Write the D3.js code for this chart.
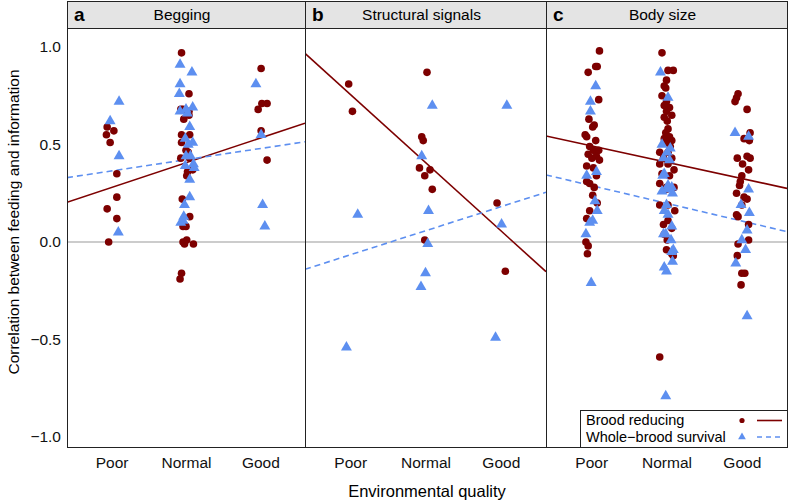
<!DOCTYPE html>
<html><head><meta charset="utf-8">
<script src="https://cdn.jsdelivr.net/npm/d3@7"></script>
<style>body{margin:0;background:#fff}svg{display:block;font-family:"Liberation Sans",Arial,sans-serif}</style>
</head><body><svg id="c" width="788" height="502"></svg>
<script>
const panelLetters = ["a","b","c"];
const panelTitles = ["Begging","Structural signals","Body size"];
const categories = ["Poor","Normal","Good"];
const yTicks = [-1, -0.5, 0, 0.5, 1];
const seriesNames = ["Brood reducing","Whole\u2212brood survival"];
// fitted regression values at the left (x=0.4) and right (x=3.6) edges of each panel
const broodFit = [[0.204,0.609],[0.967,-0.152],[0.544,0.275]];
const wholeFit = [[0.33,0.514],[-0.14,0.255],[0.344,0.053]];

const broodA = [[0.94,0.59],[1.03,0.57],[0.93,0.55],[0.98,0.51],[1.07,0.35],[1.07,0.23],[0.94,0.17],[1.07,0.12],[0.96,0.0],
 [1.94,0.97],[2.04,0.76],[1.93,0.68],[1.96,0.68],[2.04,0.67],[1.97,0.63],[2.04,0.65],[2.05,0.55],[1.94,0.55],[1.94,0.51],[2.0,0.47],[2.03,0.46],[1.93,0.43],[2.05,0.43],[2.09,0.37],[2.01,0.34],[2.02,0.36],[1.95,0.22],[2.05,0.13],[1.96,0.08],[2.0,0.08],[1.96,0.0],[1.98,-0.01],[2.01,0.01],[2.1,-0.01],[1.94,-0.16],[1.92,-0.19],
 [3.01,0.89],[3.02,0.71],[3.09,0.71],[2.97,0.68],[3.01,0.57],[3.09,0.42]];
const wholeA = [[0.98,0.62],[1.10,0.72],[1.10,0.44],[1.09,0.05],
 [1.92,0.91],[2.08,0.87],[1.92,0.81],[1.91,0.76],[2.0,0.68],[2.09,0.69],[1.92,0.67],[2.02,0.66],[2.05,0.59],[1.99,0.53],[2.09,0.51],[2.03,0.50],[2.0,0.44],[2.06,0.44],[2.10,0.40],[1.99,0.39],[2.11,0.38],[2.05,0.32],[2.05,0.23],[1.98,0.19],[1.97,0.13],[1.96,0.11],[1.93,0.10],
 [2.94,0.81],[3.01,0.55],[3.03,0.19],[3.06,0.08]];
const broodB = [[0.98,0.81],[1.03,0.67],[2.02,0.87],[1.95,0.54],[1.97,0.52],[1.92,0.38],[2.06,0.37],[1.99,0.34],[2.09,0.27],[1.99,0.01],[2.95,0.20],[3.06,-0.15]];
const wholeB = [[2.09,0.70],[3.08,0.70],[1.95,0.44],[1.10,0.14],[2.04,0.16],[3.01,0.09],[2.03,-0.01],[2.0,-0.16],[1.94,-0.23],[0.95,-0.54],[2.93,-0.49]];
const broodC = [[1.11,0.98],[1.06,0.90],[1.08,0.90],[0.96,0.87],[1.10,0.73],[0.97,0.63],[1.04,0.60],[1.02,0.59],[0.92,0.55],[0.94,0.54],[1.06,0.52],[0.98,0.49],[1.03,0.47],[1.10,0.47],[0.96,0.45],[1.07,0.44],[1.01,0.43],[1.11,0.42],[0.94,0.39],[1.03,0.38],[1.07,0.34],[0.94,0.31],[0.98,0.30],[1.04,0.28],[1.02,0.24],[1.08,0.20],[0.98,0.16],[0.94,0.12],[0.93,0.0],[0.96,-0.02],[0.95,-0.06],
 [1.94,0.97],[2.02,0.88],[2.09,0.88],[2.0,0.83],[1.97,0.80],[1.99,0.79],[1.94,0.75],[2.0,0.72],[1.97,0.70],[2.04,0.69],[2.0,0.67],[2.07,0.65],[1.97,0.64],[2.01,0.62],[2.02,0.58],[1.99,0.56],[2.04,0.54],[1.97,0.53],[2.07,0.52],[2.0,0.51],[2.05,0.49],[1.91,0.46],[2.02,0.46],[1.96,0.43],[2.07,0.43],[1.91,0.40],[2.02,0.40],[2.10,0.37],[1.94,0.35],[2.04,0.34],[1.91,0.30],[2.0,0.28],[2.10,0.28],[2.0,0.27],[1.91,0.19],[2.02,0.19],[2.11,0.16],[2.02,0.11],[1.96,0.09],[2.07,0.07],[1.97,0.04],[2.01,0.01],[2.0,-0.04],[2.07,-0.06],[2.09,-0.07],[1.91,-0.59],
 [2.95,0.76],[2.93,0.74],[2.91,0.72],[3.07,0.68],[3.11,0.56],[3.03,0.53],[3.10,0.52],[2.94,0.43],[3.07,0.44],[3.11,0.43],[3.01,0.40],[3.09,0.37],[3.0,0.34],[2.98,0.31],[2.97,0.29],[2.93,0.25],[3.03,0.23],[3.07,0.22],[3.0,0.19],[2.93,0.14],[2.95,0.13],[3.09,0.09],[3.09,0.01],[2.95,-0.01],[2.94,-0.07],[3.0,-0.16],[3.04,-0.16],[2.99,-0.22]];
const wholeC = [[1.06,0.80],[0.99,0.72],[0.99,0.67],[0.94,0.34],[1.07,0.36],[1.05,0.21],[1.08,0.16],[1.02,0.11],[0.98,0.10],[0.93,0.04],[1.0,-0.21],
 [1.92,0.87],[2.02,0.74],[1.94,0.50],[2.05,0.48],[2.01,0.46],[1.96,0.43],[2.04,0.42],[1.97,0.35],[1.95,0.34],[2.02,0.29],[2.07,0.28],[1.94,0.26],[2.01,0.27],[2.08,0.25],[2.0,0.19],[1.97,0.16],[2.02,0.14],[2.07,0.08],[1.99,0.04],[1.96,0.04],[2.06,0.01],[2.09,-0.04],[2.07,-0.05],[2.08,-0.10],[1.97,-0.13],[2.0,-0.15],[1.99,-0.79],
 [2.91,0.56],[3.09,0.54],[3.09,0.27],[2.99,0.19],[3.10,0.15],[3.07,0.06],[3.0,0.01],[3.05,-0.04],[2.92,-0.11],[3.07,-0.38]];

const broodData = [broodA, broodB, broodC];
const wholeData = [wholeA, wholeB, wholeC];

const RED = "#7d0000", BLUE = "#5d8ff0";
const svg = d3.select("#c");
const edges = [67, 305, 546, 787];
const stripTop = 1, plotTop = 28, plotBottom = 447;
const y = d3.scaleLinear().domain([-1, 1]).range([437, 47]);
const tri = d3.symbol().type(d3.symbolTriangle).size(52);

panelLetters.forEach((letter, i) => {
  const x0 = edges[i], x1 = edges[i+1];
  const x = d3.scaleLinear().domain([0.4, 3.6]).range([x0, x1]);
  const g = svg.append("g");
  g.append("rect").attr("x", x0 + 0.5).attr("y", stripTop + 0.5).attr("width", x1 - x0).attr("height", plotTop - stripTop)
    .attr("fill", "#e4e4e4").attr("stroke", "#222").attr("stroke-width", 1);
  g.append("text").attr("x", x0 + 7).attr("y", plotTop - 7).attr("font-size", 19).attr("font-weight", "bold").text(letter);
  g.append("text").attr("x", (x0 + x1) / 2 - 4).attr("y", plotTop - 8).attr("text-anchor", "middle").attr("font-size", 15.5).text(panelTitles[i]);
  g.append("line").attr("x1", x0).attr("x2", x1).attr("y1", y(0)).attr("y2", y(0)).attr("stroke", "#9a9a9a").attr("stroke-width", 1.2);
  const cid = "clip" + i;
  svg.append("clipPath").attr("id", cid).append("rect").attr("x", x0).attr("y", plotTop).attr("width", x1 - x0).attr("height", plotBottom - plotTop);
  const pg = g.append("g").attr("clip-path", `url(#${cid})`);
  pg.append("line").attr("x1", x(0.4)).attr("x2", x(3.6)).attr("y1", y(broodFit[i][0])).attr("y2", y(broodFit[i][1]))
    .attr("stroke", RED).attr("stroke-width", 1.6);
  pg.append("line").attr("x1", x(0.4)).attr("x2", x(3.6)).attr("y1", y(wholeFit[i][0])).attr("y2", y(wholeFit[i][1]))
    .attr("stroke", BLUE).attr("stroke-width", 1.6).attr("stroke-dasharray", "6,4");
  pg.selectAll("circle.b").data(broodData[i]).join("circle").attr("class", "b")
    .attr("cx", d => x(d[0])).attr("cy", d => y(d[1])).attr("r", 3.8).attr("fill", RED);
  pg.selectAll("path.w").data(wholeData[i]).join("path").attr("class", "w")
    .attr("transform", d => `translate(${x(d[0])},${y(d[1])})`).attr("d", tri).attr("fill", BLUE);
  g.append("rect").attr("x", x0 + 0.5).attr("y", plotTop + 0.5).attr("width", x1 - x0).attr("height", plotBottom - plotTop)
    .attr("fill", "none").attr("stroke", "#222").attr("stroke-width", 1);
  const xa = g.append("g").attr("transform", `translate(0,${plotBottom})`)
    .call(d3.axisBottom(x).tickValues([1, 2, 3]).tickFormat((d, k) => categories[k]).tickSize(0).tickPadding(10));
  xa.select(".domain").remove();
  xa.selectAll("text").attr("font-size", 15.5).attr("font-family", "Liberation Sans, Arial, sans-serif").attr("fill", "#111");
});

const ya = svg.append("g").attr("transform", `translate(${edges[0]},0)`)
  .call(d3.axisLeft(y).tickValues(yTicks).tickFormat(d3.format(".1f")).tickSize(0).tickPadding(6));
ya.select(".domain").remove();
ya.selectAll("text").attr("font-size", 15.5).attr("font-family", "Liberation Sans, Arial, sans-serif").attr("fill", "#111");

svg.append("text").attr("transform", "translate(19,222) rotate(-90)").attr("text-anchor", "middle").attr("font-size", 15.5)
  .text("Correlation between feeding and information");
svg.append("text").attr("x", 427).attr("y", 497).attr("text-anchor", "middle").attr("font-size", 16.5).text("Environmental quality");

const lg = svg.append("g");
lg.append("rect").attr("x", 580.5).attr("y", 410.5).attr("width", 207).attr("height", 37).attr("fill", "#fff").attr("stroke", "#222");
const lgRows = [425, 441.5];
seriesNames.forEach((nm, k) => {
  lg.append("text").attr("x", 586).attr("y", lgRows[k]).attr("font-size", 14.5).text(nm);
  const cy = lgRows[k] - 4.5;
  if (k === 0) {
    lg.append("circle").attr("cx", 742).attr("cy", cy).attr("r", 2.6).attr("fill", RED);
    lg.append("line").attr("x1", 757).attr("x2", 782).attr("y1", cy).attr("y2", cy).attr("stroke", RED).attr("stroke-width", 1.6);
  } else {
    lg.append("path").attr("transform", `translate(742,${cy})`).attr("d", d3.symbol().type(d3.symbolTriangle).size(26)).attr("fill", BLUE);
    lg.append("line").attr("x1", 757).attr("x2", 782).attr("y1", cy).attr("y2", cy).attr("stroke", BLUE).attr("stroke-width", 1.6).attr("stroke-dasharray", "5,4");
  }
});
</script></body></html>
